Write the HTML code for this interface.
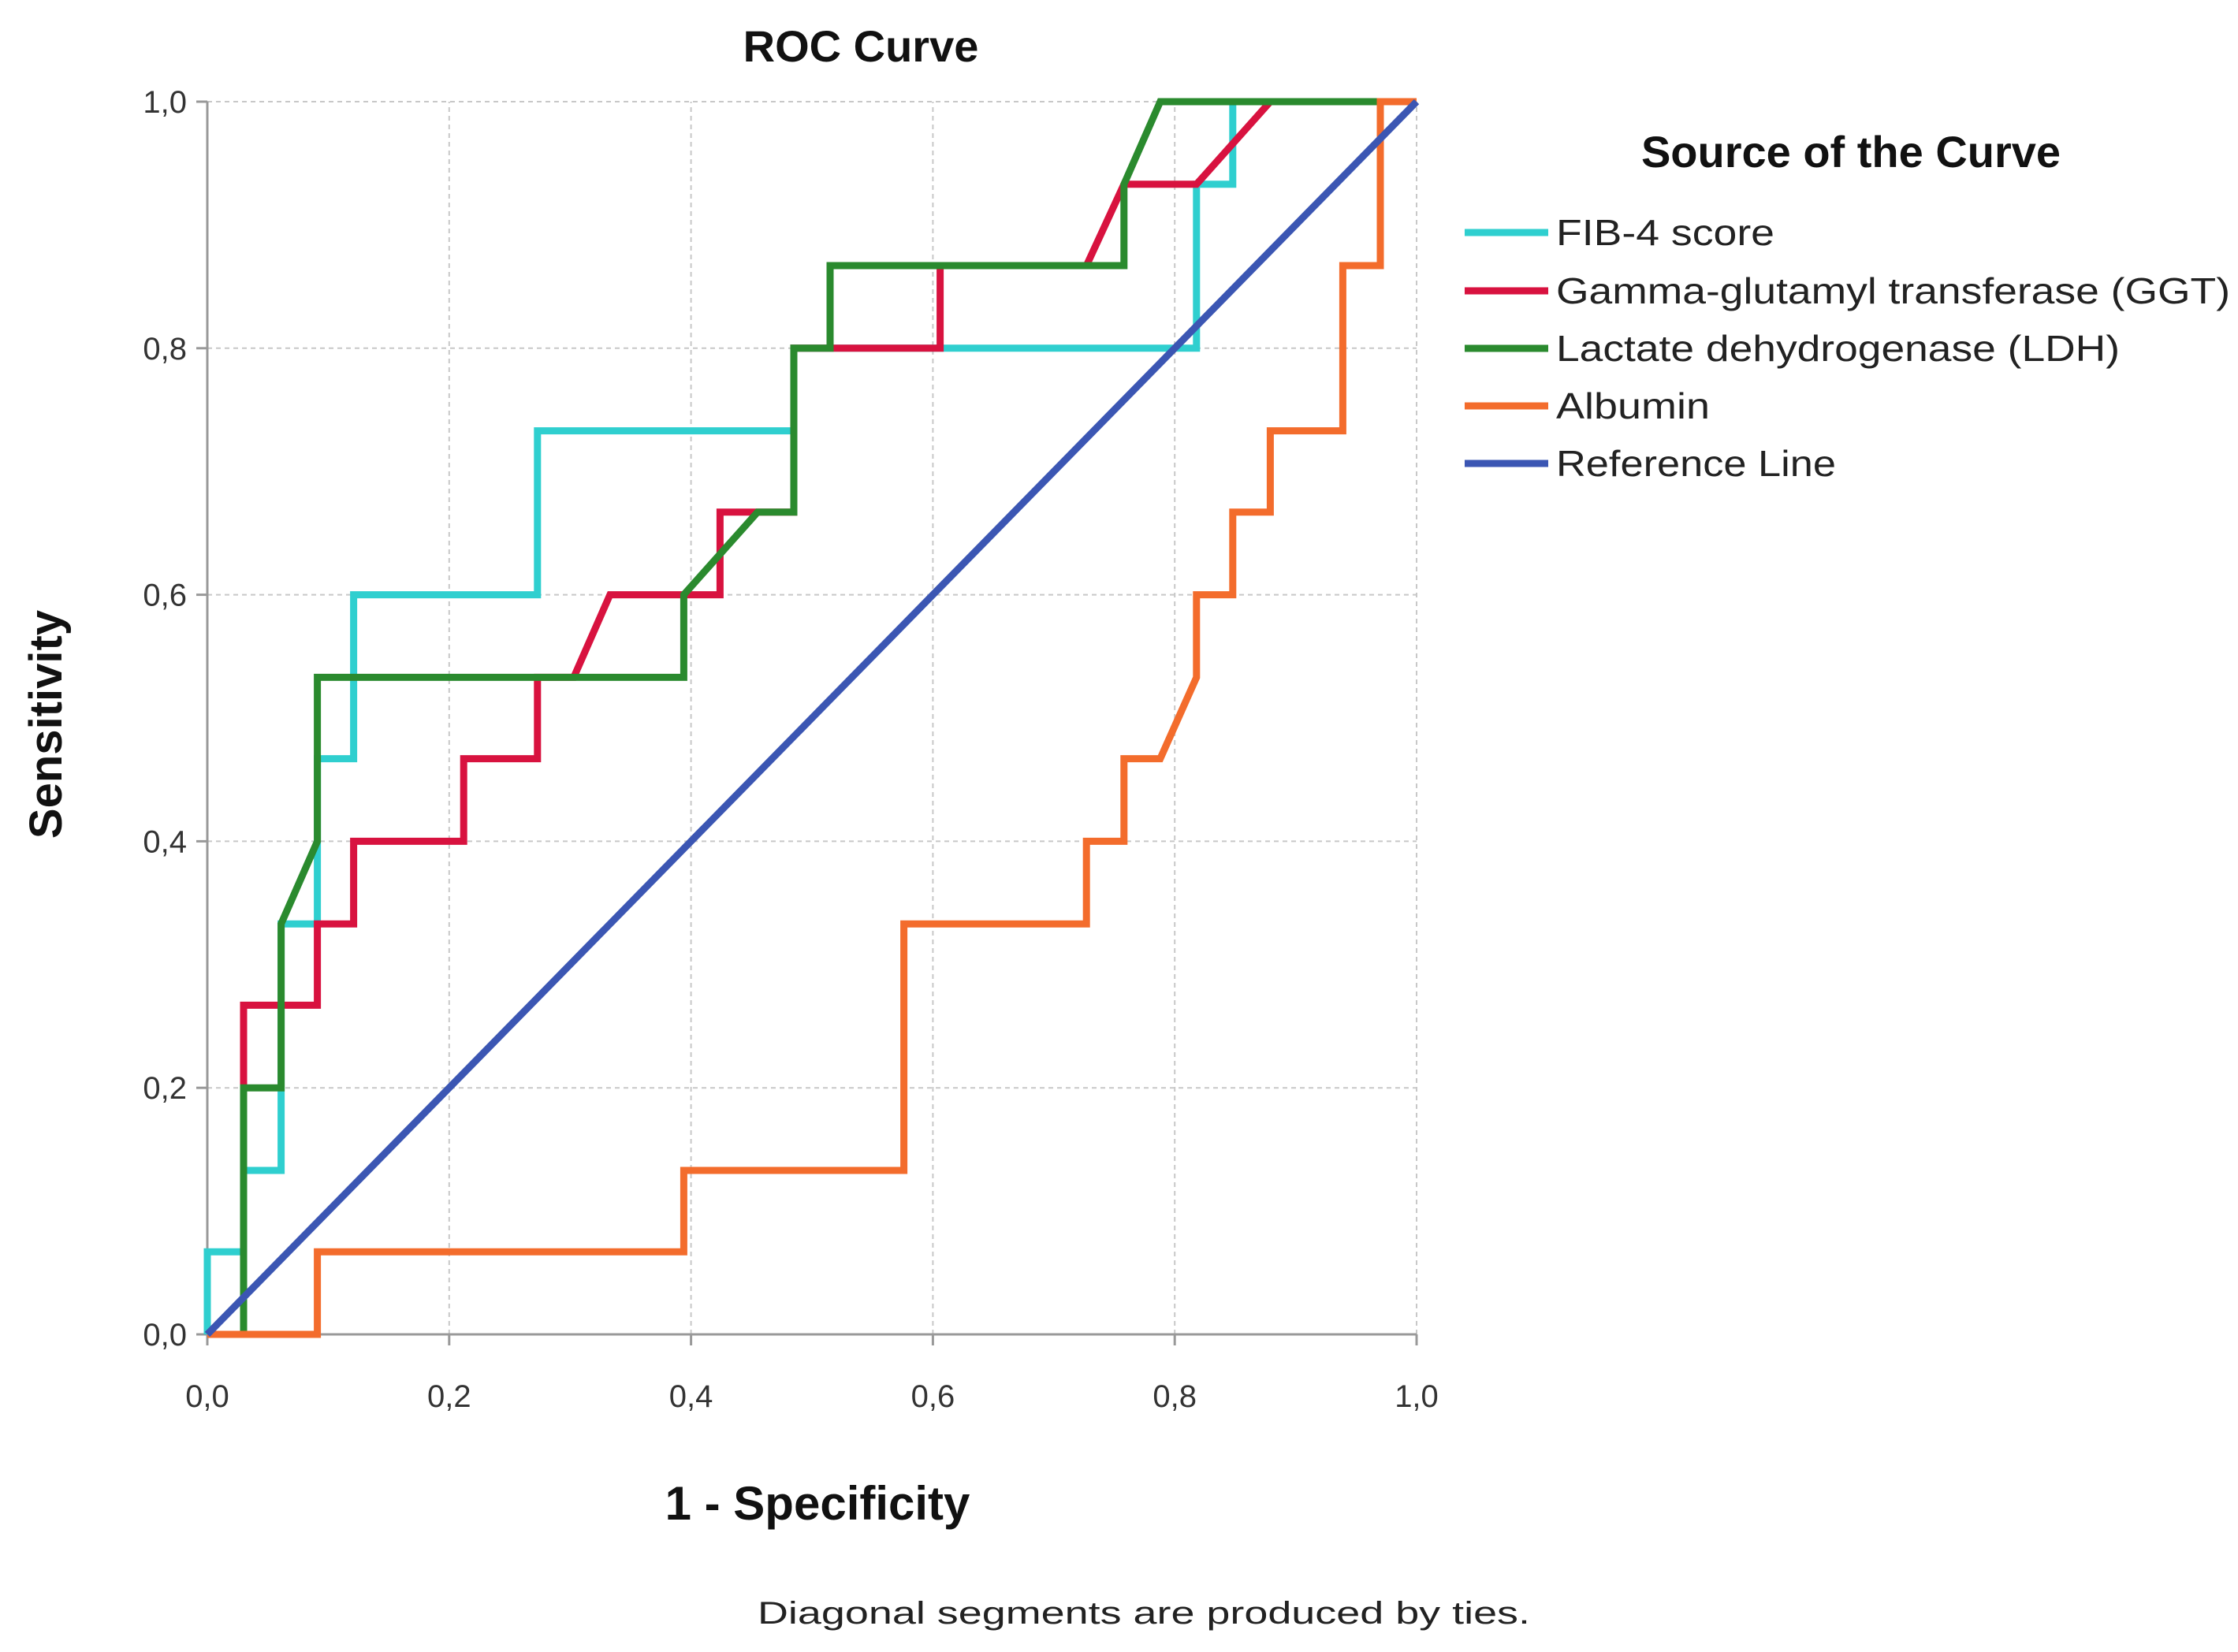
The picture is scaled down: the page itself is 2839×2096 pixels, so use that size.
<!DOCTYPE html>
<html><head><meta charset="utf-8"><style>
html,body{margin:0;padding:0;background:#fff}
svg{display:block}
text{font-family:"Liberation Sans",sans-serif}
</style></head><body>
<svg id="chart" width="2839" height="2096" viewBox="0 0 2839 2096" xmlns="http://www.w3.org/2000/svg">
<text x="1092" y="78" font-size="56" font-weight="bold" text-anchor="middle" fill="#111">ROC Curve</text>
<g id="grid"></g>
<g id="axes"></g>
<g id="series"></g>
<text x="1037" y="1928" font-size="60" font-weight="bold" text-anchor="middle" fill="#111">1 - Specificity</text>
<text transform="translate(78,919) rotate(-90)" font-size="58" font-weight="bold" text-anchor="middle" fill="#111">Sensitivity</text>
<text x="1451" y="2060" font-size="40" text-anchor="middle" fill="#222" textLength="980" lengthAdjust="spacingAndGlyphs">Diagonal segments are produced by ties.</text>
<g id="legend">
<text x="2348" y="212" font-size="56" font-weight="bold" text-anchor="middle" fill="#111">Source of the Curve</text>
</g>
</svg>
<script>
const ticks = [0, 0.2, 0.4, 0.6, 0.8, 1.0];
const tickLabels = ["0,0", "0,2", "0,4", "0,6", "0,8", "1,0"];
const seriesNames = ["FIB-4 score", "Gamma-glutamyl transferase (GGT)", "Lactate dehydrogenase (LDH)", "Albumin", "Reference Line"];
const fibX = [0,0,0.03,0.03,0.061,0.061,0.091,0.091,0.121,0.121,0.273,0.273,0.485,0.485,0.818,0.818,0.848,0.848,1];
const fibY = [0,0.067,0.067,0.133,0.133,0.333,0.333,0.467,0.467,0.6,0.6,0.733,0.733,0.8,0.8,0.933,0.933,1,1];
const ggtX = [0,0.03,0.03,0.091,0.091,0.121,0.121,0.212,0.212,0.273,0.273,0.303,0.333,0.424,0.424,0.485,0.485,0.606,0.606,0.727,0.758,0.818,0.879,1];
const ggtY = [0,0,0.267,0.267,0.333,0.333,0.4,0.4,0.467,0.467,0.533,0.533,0.6,0.6,0.667,0.667,0.8,0.8,0.867,0.867,0.933,0.933,1,1];
const ldhX = [0,0.03,0.03,0.061,0.061,0.091,0.091,0.394,0.394,0.455,0.485,0.485,0.515,0.515,0.758,0.758,0.788,1];
const ldhY = [0,0,0.2,0.2,0.333,0.4,0.533,0.533,0.6,0.667,0.667,0.8,0.8,0.867,0.867,0.933,1,1];
const albX = [0,0.091,0.091,0.394,0.394,0.576,0.576,0.727,0.727,0.758,0.758,0.788,0.818,0.818,0.848,0.848,0.879,0.879,0.939,0.939,0.97,0.97,1];
const albY = [0,0,0.067,0.067,0.133,0.133,0.333,0.333,0.4,0.4,0.467,0.467,0.533,0.6,0.6,0.667,0.667,0.733,0.733,0.867,0.867,1,1];
const refX = [0,1];
const refY = [0,1];

const NS = "http://www.w3.org/2000/svg";
const X0 = 263, X1 = 1797, Y0 = 1693, Y1 = 129;
function sx(v){ return X0 + v*(X1-X0); }
function sy(v){ return Y0 - v*(Y0-Y1); }
function mk(tag, attrs, parent){ const e=document.createElementNS(NS,tag); for(const k in attrs) e.setAttribute(k,attrs[k]); parent.appendChild(e); return e; }

const grid = document.getElementById('grid');
const axes = document.getElementById('axes');
ticks.forEach((t,i)=>{
  if (t>0) {
    const gv = mk('line',{x1:sx(t),x2:sx(t),y1:Y0,y2:Y1,stroke:'#c8c8c8','stroke-width':2,'stroke-dasharray':'6,5'},grid);
    
    
    const gh = mk('line',{x1:X0,x2:X1,y1:sy(t),y2:sy(t),stroke:'#c8c8c8','stroke-width':2,'stroke-dasharray':'6,5'},grid);
    
    
  }
  const xt = mk('line',{x1:sx(t),x2:sx(t),y1:Y0,y2:Y0+14,stroke:'#999','stroke-width':3},axes);
  
  
  const yt = mk('line',{x1:X0-14,x2:X0,y1:sy(t),y2:sy(t),stroke:'#999','stroke-width':3},axes);
  
  
  const xl = mk('text',{x:sx(t),y:Y0+92,'font-size':40,'text-anchor':'middle',fill:'#333'},axes);
  xl.textContent = tickLabels[i];
  
  
  const yl = mk('text',{x:X0-26,y:sy(t)+14,'font-size':40,'text-anchor':'end',fill:'#333'},axes);
  yl.textContent = tickLabels[i];
  
  
});
const ax1 = mk('line',{x1:X0,x2:X0,y1:Y0,y2:Y1,stroke:'#999','stroke-width':3},axes);


const ax2 = mk('line',{x1:X0,x2:X1,y1:Y0,y2:Y0,stroke:'#999','stroke-width':3},axes);



const series = document.getElementById('series');
const sets = [
  {x:fibX,y:fibY,c:'#2fcfcf',n:'fib4-curve'},
  {x:ggtX,y:ggtY,c:'#d8123f',n:'ggt-curve'},
  {x:ldhX,y:ldhY,c:'#2a8a2e',n:'ldh-curve'},
  {x:albX,y:albY,c:'#f36c2c',n:'albumin-curve'},
  {x:refX,y:refY,c:'#3b56b3',n:'reference-line'}
];
sets.forEach(s=>{
  const pts = s.x.map((v,i)=>sx(v).toFixed(1)+','+sy(s.y[i]).toFixed(1)).join(' ');
  const p = mk('polyline',{points:pts,fill:'none',stroke:s.c,'stroke-width':9,'stroke-linejoin':'miter'},series);
  
  
});

const legend = document.getElementById('legend');
const legY = [295,369,442,515,588];
const legW = [277,855,715,195,355];
sets.forEach((s,i)=>{
  const l = mk('line',{x1:1858,x2:1964,y1:legY[i],y2:legY[i],stroke:s.c,'stroke-width':9},legend);
  
  
  const t = mk('text',{x:1974,y:legY[i]+16,'font-size':46,fill:'#222',textLength:legW[i],lengthAdjust:'spacingAndGlyphs'},legend);
  t.textContent = seriesNames[i];
  
  
});
</script>
</body></html>
